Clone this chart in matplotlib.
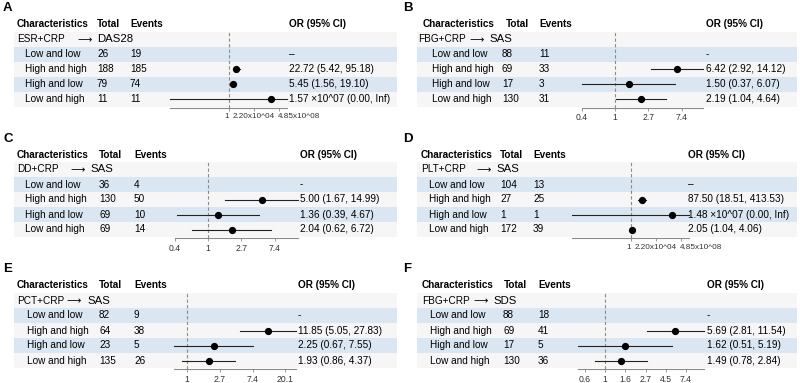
import numpy as np
import matplotlib
matplotlib.use("Agg")
from matplotlib import pyplot as plt
from matplotlib.patches import Rectangle
import matplotlib.transforms as mtransforms

plt.rcParams['font.family'] = ['Liberation Sans', 'DejaVu Sans']

row_labels = ["Low and low", "High and high", "High and low", "Low and high"]

# Panel A
a_group = ("ESR+CRP", "DAS28")
a_total = [26, 188, 79, 11]
a_events = [19, 185, 74, 11]
a_or = [np.nan, 22.72, 5.45, 1.57e7]
a_lo = [np.nan, 5.42, 1.56, 0.00]
a_hi = [np.nan, 95.18, 19.10, np.inf]
a_text = ["–", "22.72 (5.42, 95.18)", "5.45 (1.56, 19.10)", "1.57 ×10^07 (0.00, Inf)"]
a_ticks = [1, 2.20e4, 4.85e8]
a_ticklabels = ["1", "2.20x10^04", "4.85x10^08"]

# Panel B
b_group = ("FBG+CRP", "SAS")
b_total = [88, 69, 17, 130]
b_events = [11, 33, 3, 31]
b_or = [np.nan, 6.42, 1.50, 2.19]
b_lo = [np.nan, 2.92, 0.37, 1.04]
b_hi = [np.nan, 14.12, 6.07, 4.64]
b_text = ["-", "6.42 (2.92, 14.12)", "1.50 (0.37, 6.07)", "2.19 (1.04, 4.64)"]
b_ticks = [0.368, 1, 2.718, 7.389]
b_ticklabels = ["0.4", "1", "2.7", "7.4"]

# Panel C
c_group = ("DD+CRP", "SAS")
c_total = [36, 130, 69, 69]
c_events = [4, 50, 10, 14]
c_or = [np.nan, 5.00, 1.36, 2.04]
c_lo = [np.nan, 1.67, 0.39, 0.62]
c_hi = [np.nan, 14.99, 4.67, 6.72]
c_text = ["-", "5.00 (1.67, 14.99)", "1.36 (0.39, 4.67)", "2.04 (0.62, 6.72)"]
c_ticks = [0.368, 1, 2.718, 7.389]
c_ticklabels = ["0.4", "1", "2.7", "7.4"]

# Panel D
d_group = ("PLT+CRP", "SAS")
d_total = [104, 27, 1, 172]
d_events = [13, 25, 1, 39]
d_or = [np.nan, 87.50, 1.48e7, 2.05]
d_lo = [np.nan, 18.51, 0.00, 1.04]
d_hi = [np.nan, 413.53, np.inf, 4.06]
d_text = ["–", "87.50 (18.51, 413.53)", "1.48 ×10^07 (0.00, Inf)", "2.05 (1.04, 4.06)"]
d_ticks = [1, 2.20e4, 4.85e8]
d_ticklabels = ["1", "2.20x10^04", "4.85x10^08"]

# Panel E
e_group = ("PCT+CRP", "SAS")
e_total = [82, 64, 23, 135]
e_events = [9, 38, 5, 26]
e_or = [np.nan, 11.85, 2.25, 1.93]
e_lo = [np.nan, 5.05, 0.67, 0.86]
e_hi = [np.nan, 27.83, 7.55, 4.37]
e_text = ["-", "11.85 (5.05, 27.83)", "2.25 (0.67, 7.55)", "1.93 (0.86, 4.37)"]
e_ticks = [1, 2.718, 7.389, 20.09]
e_ticklabels = ["1", "2.7", "7.4", "20.1"]

# Panel F
f_group = ("FBG+CRP", "SDS")
f_total = [88, 69, 17, 130]
f_events = [18, 41, 5, 36]
f_or = [np.nan, 5.69, 1.62, 1.49]
f_lo = [np.nan, 2.81, 0.51, 0.78]
f_hi = [np.nan, 11.54, 5.19, 2.84]
f_text = ["-", "5.69 (2.81, 11.54)", "1.62 (0.51, 5.19)", "1.49 (0.78, 2.84)"]
f_ticks = [0.607, 1, 1.649, 2.718, 4.482, 7.389]
f_ticklabels = ["0.6", "1", "1.6", "2.7", "4.5", "7.4"]

W, H = 800, 383
FS = 7.2
BLUE = '#dbe6f3'
LIGHT = '#f6f6f6'

fig = plt.figure(figsize=(8, 3.83), dpi=100)
bg = fig.add_axes([0, 0, 1, 1])
bg.set_xlim(0, W)
bg.set_ylim(H, 0)
bg.axis('off')
renderer = fig.canvas.get_renderer()


def text_right_px(t):
    bb = t.get_window_extent(renderer=renderer)
    return bb.x1


def draw_panel(letter, head_y, lay, group, total, events, orv, lo, hi, text,
               ticks, ticklabels, wide=False):
    band_l, band_r = lay['band']
    # row backgrounds
    for i in range(5):
        y = head_y + 15 * (i + 1)
        bg.add_patch(Rectangle((band_l, y - 7.5), band_r - band_l, 15,
                               color=LIGHT if i % 2 == 0 else BLUE, lw=0))

    bg.text(lay['letter'], head_y - 16, letter, fontsize=9.5, fontweight='bold',
            va='center', ha='left')
    # header
    bg.text(lay['head_char'], head_y, "Characteristics", fontsize=FS, fontweight='bold', va='center')
    bg.text(lay['head_total'], head_y, "Total", fontsize=FS, fontweight='bold', va='center')
    bg.text(lay['events'], head_y, "Events", fontsize=FS, fontweight='bold', va='center')
    bg.text(lay['or'], head_y, "OR (95% CI)", fontsize=FS, fontweight='bold', va='center')

    # group label with arrow
    gy = head_y + 15
    t1 = bg.text(lay['group'], gy, group[0], fontsize=FS, va='center')
    x1 = text_right_px(t1) + lay['gap']
    t2 = bg.text(x1, gy, r"$\longrightarrow$", fontsize=FS, va='center')
    x2 = text_right_px(t2) + 4
    bg.text(x2, gy, group[1], fontsize=8.2, va='center')

    for i, lab in enumerate(row_labels):
        y = head_y + 30 + 15 * i
        bg.text(lay['sub'], y, lab, fontsize=FS, va='center')
        bg.text(lay['total'], y, str(total[i]), fontsize=FS, va='center')
        bg.text(lay['events'], y, str(events[i]), fontsize=FS, va='center')
        bg.text(lay['or'], y, text[i], fontsize=FS, va='center')

    # forest plot
    fl, fr = lay['forest']
    top = head_y + 7.5
    bottom = head_y + 83.5
    ax = fig.add_axes([fl / W, 1 - bottom / H, (fr - fl) / W, (bottom - top) / H])
    ax.patch.set_alpha(0)
    ax.set_xscale('log')
    if wide:
        xlim = (np.exp(-23), np.exp(23))
    else:
        xlim = (min(np.nanmin(lo), ticks[0]), max(np.nanmax(hi), ticks[-1]))
    ax.set_xlim(xlim)
    ax.set_ylim(bottom, top)
    for s in ['top', 'left', 'right']:
        ax.spines[s].set_visible(False)
    ax.spines['bottom'].set_color('#8a8a8a')
    ax.spines['bottom'].set_linewidth(0.8)
    ax.axvline(1, color='#8c8c8c', ls=(0, (3, 2)), lw=0.8)
    for i in range(4):
        if np.isnan(orv[i]):
            continue
        y = head_y + 30 + 15 * i
        l = max(lo[i], xlim[0])
        h = min(hi[i], xlim[1])
        ax.plot([l, h], [y, y], color='#222222', lw=0.8, clip_on=False)
        ax.plot(orv[i], y, 'o', ms=4.2, color='black', clip_on=False)
    ax.set_xticks(ticks)
    ax.set_xticklabels(ticklabels)
    ax.minorticks_off()
    ax.set_yticks([])
    ax.tick_params(axis='x', length=2.5, width=0.6, color='#8a8a8a',
                   labelsize=5.9 if wide else 6.2, pad=1.5, labelcolor='#333333')
    if wide:
        labs = ax.get_xticklabels()
        labs[0].set_transform(labs[0].get_transform() +
                              mtransforms.ScaledTranslation(-1.5 / 100, 0, fig.dpi_scale_trans))
        labs[-1].set_ha('left')
        labs[-1].set_transform(labs[-1].get_transform() +
                               mtransforms.ScaledTranslation(-1 / 100, 0, fig.dpi_scale_trans))


LEFT_BAND = (14, 397)
RIGHT_BAND = (417, 797)

lay_a = dict(band=LEFT_BAND, letter=3, head_char=17, group=17, gap=11, sub=25,
             head_total=97, total=97, events=130, forest=(170, 287))
lay_b = dict(band=RIGHT_BAND, letter=403, head_char=423, group=418, gap=2, sub=432,
             head_total=506, total=502, events=539, forest=(582, 703))
lay_c = dict(band=LEFT_BAND, letter=3, head_char=17, group=17, gap=10, sub=25,
             head_total=99, total=99, events=134, forest=(175, 298))
lay_d = dict(band=RIGHT_BAND, letter=403, head_char=421, group=421, gap=9, sub=429,
             head_total=500, total=500, events=533, forest=(572, 689))
lay_e = dict(band=LEFT_BAND, letter=3, head_char=17, group=17, gap=1, sub=27,
             head_total=99, total=99, events=134, forest=(174, 296))
lay_f = dict(band=RIGHT_BAND, letter=403, head_char=422, group=422, gap=2, sub=430,
             head_total=504, total=503, events=538, forest=(578, 704))
lay_a['or'] = 289
lay_b['or'] = 706
lay_c['or'] = 300
lay_d['or'] = 688
lay_e['or'] = 298
lay_f['or'] = 707

draw_panel("A", 24, lay_a, a_group, a_total, a_events, a_or, a_lo, a_hi, a_text,
           a_ticks, a_ticklabels, wide=True)
draw_panel("B", 24, lay_b, b_group, b_total, b_events, b_or, b_lo, b_hi, b_text,
           b_ticks, b_ticklabels)
draw_panel("C", 154.5, lay_c, c_group, c_total, c_events, c_or, c_lo, c_hi, c_text,
           c_ticks, c_ticklabels)
draw_panel("D", 154.5, lay_d, d_group, d_total, d_events, d_or, d_lo, d_hi, d_text,
           d_ticks, d_ticklabels, wide=True)
draw_panel("E", 285.5, lay_e, e_group, e_total, e_events, e_or, e_lo, e_hi, e_text,
           e_ticks, e_ticklabels)
draw_panel("F", 285.5, lay_f, f_group, f_total, f_events, f_or, f_lo, f_hi, f_text,
           f_ticks, f_ticklabels)

fig.savefig("out.png", dpi=100)
